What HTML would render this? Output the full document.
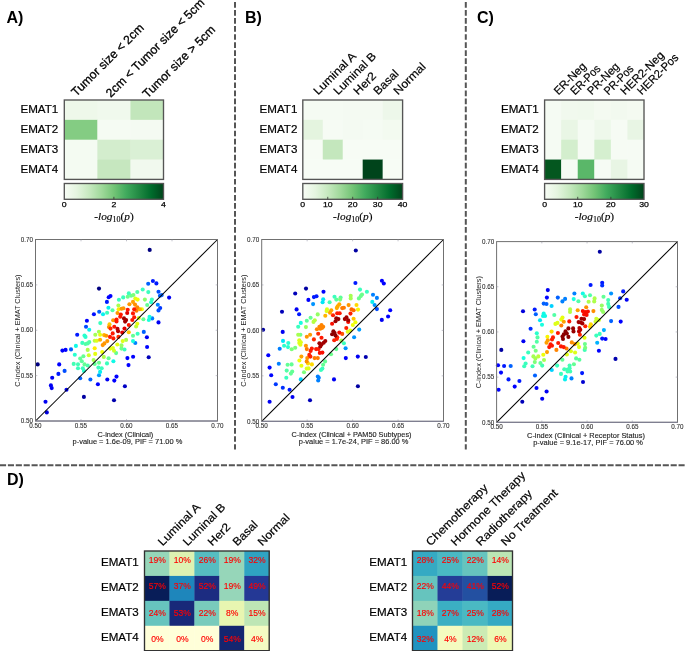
<!DOCTYPE html>
<html><head><meta charset="utf-8"><style>
html,body{margin:0;padding:0;background:#fff;}
body{width:685px;height:651px;overflow:hidden;}
svg{display:block;will-change:transform;filter:blur(0.3px);}
</style></head><body>
<svg width="685" height="651" viewBox="0 0 685 651">
<defs><linearGradient id="gA" x1="0" x2="1" y1="0" y2="0"><stop offset="0.000" stop-color="#f7fcf5"/><stop offset="0.125" stop-color="#e5f5e0"/><stop offset="0.250" stop-color="#c7e9c0"/><stop offset="0.375" stop-color="#a0d99b"/><stop offset="0.500" stop-color="#73c476"/><stop offset="0.625" stop-color="#40aa5d"/><stop offset="0.750" stop-color="#228a44"/><stop offset="0.875" stop-color="#006c2c"/><stop offset="1.000" stop-color="#00441b"/></linearGradient><linearGradient id="gB" x1="0" x2="1" y1="0" y2="0"><stop offset="0.000" stop-color="#f7fcf5"/><stop offset="0.125" stop-color="#e5f5e0"/><stop offset="0.250" stop-color="#c7e9c0"/><stop offset="0.375" stop-color="#a0d99b"/><stop offset="0.500" stop-color="#73c476"/><stop offset="0.625" stop-color="#40aa5d"/><stop offset="0.750" stop-color="#228a44"/><stop offset="0.875" stop-color="#006c2c"/><stop offset="1.000" stop-color="#00441b"/></linearGradient><linearGradient id="gC" x1="0" x2="1" y1="0" y2="0"><stop offset="0.000" stop-color="#f7fcf5"/><stop offset="0.125" stop-color="#e5f5e0"/><stop offset="0.250" stop-color="#c7e9c0"/><stop offset="0.375" stop-color="#a0d99b"/><stop offset="0.500" stop-color="#73c476"/><stop offset="0.625" stop-color="#40aa5d"/><stop offset="0.750" stop-color="#228a44"/><stop offset="0.875" stop-color="#006c2c"/><stop offset="1.000" stop-color="#00441b"/></linearGradient></defs>
<line x1="235" y1="2" x2="235" y2="449.5" stroke="#555" stroke-width="2" stroke-dasharray="5.7 2.34"/>
<line x1="465.8" y1="2" x2="465.8" y2="449.5" stroke="#555" stroke-width="2" stroke-dasharray="5.7 2.34"/>
<line x1="0" y1="465.3" x2="685" y2="465.3" stroke="#555" stroke-width="2" stroke-dasharray="6.1 1.79"/>
<text x="6.4" y="22.5" font-family="Liberation Sans, sans-serif" font-weight="bold" font-size="16">A)</text>
<text x="245.0" y="22.6" font-family="Liberation Sans, sans-serif" font-weight="bold" font-size="16">B)</text>
<text x="477.0" y="22.8" font-family="Liberation Sans, sans-serif" font-weight="bold" font-size="16">C)</text>
<text x="6.9" y="484.8" font-family="Liberation Sans, sans-serif" font-weight="bold" font-size="16">D)</text>
<rect x="64.30" y="100.00" width="33.47" height="20.25" fill="#eef8ea"/>
<rect x="97.37" y="100.00" width="33.47" height="20.25" fill="#f0f9ed"/>
<rect x="130.43" y="100.00" width="33.47" height="20.25" fill="#c2e6bb"/>
<rect x="64.30" y="119.85" width="33.47" height="20.25" fill="#84cc83"/>
<rect x="97.37" y="119.85" width="33.47" height="20.25" fill="#f5fbf3"/>
<rect x="130.43" y="119.85" width="33.47" height="20.25" fill="#f4faf2"/>
<rect x="64.30" y="139.70" width="33.47" height="20.25" fill="#f4fbf2"/>
<rect x="97.37" y="139.70" width="33.47" height="20.25" fill="#d3edcd"/>
<rect x="130.43" y="139.70" width="33.47" height="20.25" fill="#daf0d5"/>
<rect x="64.30" y="159.55" width="33.47" height="20.25" fill="#f4fbf2"/>
<rect x="97.37" y="159.55" width="33.47" height="20.25" fill="#c6e7bf"/>
<rect x="130.43" y="159.55" width="33.47" height="20.25" fill="#f1f9ee"/>
<rect x="64.3" y="100.0" width="99.2" height="79.4" fill="none" stroke="#555" stroke-width="1.35"/>
<text x="58.30" y="113.30" font-family="Liberation Sans, sans-serif" font-size="11.15" text-anchor="end" fill="#000" textLength="37.83" lengthAdjust="spacingAndGlyphs" stroke="#000" stroke-width="0.2">EMAT1</text>
<text x="58.30" y="133.10" font-family="Liberation Sans, sans-serif" font-size="11.15" text-anchor="end" fill="#000" textLength="37.83" lengthAdjust="spacingAndGlyphs" stroke="#000" stroke-width="0.2">EMAT2</text>
<text x="58.30" y="152.90" font-family="Liberation Sans, sans-serif" font-size="11.15" text-anchor="end" fill="#000" textLength="37.83" lengthAdjust="spacingAndGlyphs" stroke="#000" stroke-width="0.2">EMAT3</text>
<text x="58.30" y="172.60" font-family="Liberation Sans, sans-serif" font-size="11.15" text-anchor="end" fill="#000" textLength="37.83" lengthAdjust="spacingAndGlyphs" stroke="#000" stroke-width="0.2">EMAT4</text>
<text transform="translate(76.20,97.00) rotate(-45)" font-family="Liberation Sans, sans-serif" font-size="12.2" stroke="#000" stroke-width="0.3">Tumor size &lt; 2cm</text>
<text transform="translate(110.80,98.00) rotate(-45)" font-family="Liberation Sans, sans-serif" font-size="12.2" stroke="#000" stroke-width="0.3">2cm &lt; Tumor size &lt; 5cm</text>
<text transform="translate(147.60,98.80) rotate(-45)" font-family="Liberation Sans, sans-serif" font-size="12.2" stroke="#000" stroke-width="0.3">Tumor size &gt; 5cm</text>
<rect x="64.3" y="183.5" width="99.2" height="15.800000000000011" fill="url(#gA)" stroke="#555" stroke-width="1.35"/>
<text x="64.30" y="207.20" font-family="Liberation Sans, sans-serif" font-size="7.90" text-anchor="middle" fill="#000" textLength="4.84" lengthAdjust="spacingAndGlyphs" stroke="#000" stroke-width="0.25">0</text>
<line x1="113.90" y1="196.8" x2="113.90" y2="199.3" stroke="#333" stroke-width="0.8"/>
<text x="113.90" y="207.20" font-family="Liberation Sans, sans-serif" font-size="7.90" text-anchor="middle" fill="#000" textLength="4.84" lengthAdjust="spacingAndGlyphs" stroke="#000" stroke-width="0.25">2</text>
<text x="163.50" y="207.20" font-family="Liberation Sans, sans-serif" font-size="7.90" text-anchor="middle" fill="#000" textLength="4.84" lengthAdjust="spacingAndGlyphs" stroke="#000" stroke-width="0.25">4</text>
<text x="94.30" y="219.90" font-family="Liberation Serif, serif" font-size="11.3" stroke="#000" stroke-width="0.15"><tspan font-style="italic">-log</tspan><tspan font-size="8" dy="2.3">10</tspan><tspan dy="-2.3">(</tspan><tspan font-style="italic">p</tspan>)</text>
<rect x="302.80" y="100.00" width="20.36" height="20.25" fill="#f5fbf3"/>
<rect x="322.76" y="100.00" width="20.36" height="20.25" fill="#f5fbf3"/>
<rect x="342.72" y="100.00" width="20.36" height="20.25" fill="#f4faf2"/>
<rect x="362.68" y="100.00" width="20.36" height="20.25" fill="#f4faf2"/>
<rect x="382.64" y="100.00" width="20.36" height="20.25" fill="#edf7ea"/>
<rect x="302.80" y="119.85" width="20.36" height="20.25" fill="#e4f4df"/>
<rect x="322.76" y="119.85" width="20.36" height="20.25" fill="#f6fbf4"/>
<rect x="342.72" y="119.85" width="20.36" height="20.25" fill="#f4faf2"/>
<rect x="362.68" y="119.85" width="20.36" height="20.25" fill="#f5fbf3"/>
<rect x="382.64" y="119.85" width="20.36" height="20.25" fill="#f3faf0"/>
<rect x="302.80" y="139.70" width="20.36" height="20.25" fill="#f7fcf5"/>
<rect x="322.76" y="139.70" width="20.36" height="20.25" fill="#c4e7bd"/>
<rect x="342.72" y="139.70" width="20.36" height="20.25" fill="#f7fcf5"/>
<rect x="362.68" y="139.70" width="20.36" height="20.25" fill="#f7fcf5"/>
<rect x="382.64" y="139.70" width="20.36" height="20.25" fill="#f7fcf5"/>
<rect x="302.80" y="159.55" width="20.36" height="20.25" fill="#f7fcf5"/>
<rect x="322.76" y="159.55" width="20.36" height="20.25" fill="#f7fcf5"/>
<rect x="342.72" y="159.55" width="20.36" height="20.25" fill="#f7fcf5"/>
<rect x="362.68" y="159.55" width="20.36" height="20.25" fill="#00441b"/>
<rect x="382.64" y="159.55" width="20.36" height="20.25" fill="#f7fcf5"/>
<rect x="302.8" y="100.0" width="99.80000000000001" height="79.4" fill="none" stroke="#555" stroke-width="1.35"/>
<text x="297.40" y="113.30" font-family="Liberation Sans, sans-serif" font-size="11.15" text-anchor="end" fill="#000" textLength="37.83" lengthAdjust="spacingAndGlyphs" stroke="#000" stroke-width="0.2">EMAT1</text>
<text x="297.40" y="133.10" font-family="Liberation Sans, sans-serif" font-size="11.15" text-anchor="end" fill="#000" textLength="37.83" lengthAdjust="spacingAndGlyphs" stroke="#000" stroke-width="0.2">EMAT2</text>
<text x="297.40" y="152.90" font-family="Liberation Sans, sans-serif" font-size="11.15" text-anchor="end" fill="#000" textLength="37.83" lengthAdjust="spacingAndGlyphs" stroke="#000" stroke-width="0.2">EMAT3</text>
<text x="297.40" y="172.60" font-family="Liberation Sans, sans-serif" font-size="11.15" text-anchor="end" fill="#000" textLength="37.83" lengthAdjust="spacingAndGlyphs" stroke="#000" stroke-width="0.2">EMAT4</text>
<text transform="translate(318.10,95.60) rotate(-45)" font-family="Liberation Sans, sans-serif" font-size="11.45" fill="#000" textLength="54.72" lengthAdjust="spacingAndGlyphs" stroke="#000" stroke-width="0.2">Luminal A</text>
<text transform="translate(338.10,95.60) rotate(-45)" font-family="Liberation Sans, sans-serif" font-size="11.45" fill="#000" textLength="54.74" lengthAdjust="spacingAndGlyphs" stroke="#000" stroke-width="0.2">Luminal B</text>
<text transform="translate(358.10,95.60) rotate(-45)" font-family="Liberation Sans, sans-serif" font-size="11.45" fill="#000" textLength="26.68" lengthAdjust="spacingAndGlyphs" stroke="#000" stroke-width="0.2">Her2</text>
<text transform="translate(378.10,95.60) rotate(-45)" font-family="Liberation Sans, sans-serif" font-size="11.45" fill="#000" textLength="29.95" lengthAdjust="spacingAndGlyphs" stroke="#000" stroke-width="0.2">Basal</text>
<text transform="translate(398.10,95.60) rotate(-45)" font-family="Liberation Sans, sans-serif" font-size="11.45" fill="#000" textLength="39.98" lengthAdjust="spacingAndGlyphs" stroke="#000" stroke-width="0.2">Normal</text>
<rect x="302.8" y="183.5" width="99.80000000000001" height="15.800000000000011" fill="url(#gB)" stroke="#555" stroke-width="1.35"/>
<text x="302.80" y="207.20" font-family="Liberation Sans, sans-serif" font-size="7.90" text-anchor="middle" fill="#000" textLength="4.84" lengthAdjust="spacingAndGlyphs" stroke="#000" stroke-width="0.25">0</text>
<line x1="327.75" y1="196.8" x2="327.75" y2="199.3" stroke="#333" stroke-width="0.8"/>
<text x="327.75" y="207.20" font-family="Liberation Sans, sans-serif" font-size="7.90" text-anchor="middle" fill="#000" textLength="9.67" lengthAdjust="spacingAndGlyphs" stroke="#000" stroke-width="0.25">10</text>
<line x1="352.70" y1="196.8" x2="352.70" y2="199.3" stroke="#333" stroke-width="0.8"/>
<text x="352.70" y="207.20" font-family="Liberation Sans, sans-serif" font-size="7.90" text-anchor="middle" fill="#000" textLength="9.67" lengthAdjust="spacingAndGlyphs" stroke="#000" stroke-width="0.25">20</text>
<line x1="377.65" y1="196.8" x2="377.65" y2="199.3" stroke="#333" stroke-width="0.8"/>
<text x="377.65" y="207.20" font-family="Liberation Sans, sans-serif" font-size="7.90" text-anchor="middle" fill="#000" textLength="9.67" lengthAdjust="spacingAndGlyphs" stroke="#000" stroke-width="0.25">30</text>
<text x="402.60" y="207.20" font-family="Liberation Sans, sans-serif" font-size="7.90" text-anchor="middle" fill="#000" textLength="9.67" lengthAdjust="spacingAndGlyphs" stroke="#000" stroke-width="0.25">40</text>
<text x="333.10" y="219.90" font-family="Liberation Serif, serif" font-size="11.3" stroke="#000" stroke-width="0.15"><tspan font-style="italic">-log</tspan><tspan font-size="8" dy="2.3">10</tspan><tspan dy="-2.3">(</tspan><tspan font-style="italic">p</tspan>)</text>
<rect x="544.60" y="100.00" width="16.97" height="20.25" fill="#f5fbf3"/>
<rect x="561.17" y="100.00" width="16.97" height="20.25" fill="#f1f9ee"/>
<rect x="577.73" y="100.00" width="16.97" height="20.25" fill="#f0f9ed"/>
<rect x="594.30" y="100.00" width="16.97" height="20.25" fill="#f4faf1"/>
<rect x="610.87" y="100.00" width="16.97" height="20.25" fill="#f2f9ef"/>
<rect x="627.43" y="100.00" width="16.97" height="20.25" fill="#f4faf1"/>
<rect x="544.60" y="119.85" width="16.97" height="20.25" fill="#f5fbf3"/>
<rect x="561.17" y="119.85" width="16.97" height="20.25" fill="#e9f6e5"/>
<rect x="577.73" y="119.85" width="16.97" height="20.25" fill="#f5fbf3"/>
<rect x="594.30" y="119.85" width="16.97" height="20.25" fill="#eef8eb"/>
<rect x="610.87" y="119.85" width="16.97" height="20.25" fill="#f6fbf4"/>
<rect x="627.43" y="119.85" width="16.97" height="20.25" fill="#e8f5e4"/>
<rect x="544.60" y="139.70" width="16.97" height="20.25" fill="#f5fbf3"/>
<rect x="561.17" y="139.70" width="16.97" height="20.25" fill="#d3eecd"/>
<rect x="577.73" y="139.70" width="16.97" height="20.25" fill="#f6fbf4"/>
<rect x="594.30" y="139.70" width="16.97" height="20.25" fill="#d5efcf"/>
<rect x="610.87" y="139.70" width="16.97" height="20.25" fill="#f6fbf4"/>
<rect x="627.43" y="139.70" width="16.97" height="20.25" fill="#f6fbf4"/>
<rect x="544.60" y="159.55" width="16.97" height="20.25" fill="#04571f"/>
<rect x="561.17" y="159.55" width="16.97" height="20.25" fill="#f6fbf4"/>
<rect x="577.73" y="159.55" width="16.97" height="20.25" fill="#5ab769"/>
<rect x="594.30" y="159.55" width="16.97" height="20.25" fill="#f6fbf4"/>
<rect x="610.87" y="159.55" width="16.97" height="20.25" fill="#e8f5e4"/>
<rect x="627.43" y="159.55" width="16.97" height="20.25" fill="#f5fbf3"/>
<rect x="544.6" y="100.0" width="99.39999999999998" height="79.4" fill="none" stroke="#555" stroke-width="1.35"/>
<text x="538.80" y="113.30" font-family="Liberation Sans, sans-serif" font-size="11.15" text-anchor="end" fill="#000" textLength="37.83" lengthAdjust="spacingAndGlyphs" stroke="#000" stroke-width="0.2">EMAT1</text>
<text x="538.80" y="133.10" font-family="Liberation Sans, sans-serif" font-size="11.15" text-anchor="end" fill="#000" textLength="37.83" lengthAdjust="spacingAndGlyphs" stroke="#000" stroke-width="0.2">EMAT2</text>
<text x="538.80" y="152.90" font-family="Liberation Sans, sans-serif" font-size="11.15" text-anchor="end" fill="#000" textLength="37.83" lengthAdjust="spacingAndGlyphs" stroke="#000" stroke-width="0.2">EMAT3</text>
<text x="538.80" y="172.60" font-family="Liberation Sans, sans-serif" font-size="11.15" text-anchor="end" fill="#000" textLength="37.83" lengthAdjust="spacingAndGlyphs" stroke="#000" stroke-width="0.2">EMAT4</text>
<text transform="translate(558.43,95.50) rotate(-45)" font-family="Liberation Sans, sans-serif" font-size="11.45" fill="#000" textLength="40.28" lengthAdjust="spacingAndGlyphs" stroke="#000" stroke-width="0.2">ER-Neg</text>
<text transform="translate(575.10,95.50) rotate(-45)" font-family="Liberation Sans, sans-serif" font-size="11.45" fill="#000" textLength="36.99" lengthAdjust="spacingAndGlyphs" stroke="#000" stroke-width="0.2">ER-Pos</text>
<text transform="translate(591.77,95.50) rotate(-45)" font-family="Liberation Sans, sans-serif" font-size="11.45" fill="#000" textLength="39.96" lengthAdjust="spacingAndGlyphs" stroke="#000" stroke-width="0.2">PR-Neg</text>
<text transform="translate(608.43,95.50) rotate(-45)" font-family="Liberation Sans, sans-serif" font-size="11.45" fill="#000" textLength="36.67" lengthAdjust="spacingAndGlyphs" stroke="#000" stroke-width="0.2">PR-Pos</text>
<text transform="translate(625.10,95.50) rotate(-45)" font-family="Liberation Sans, sans-serif" font-size="11.45" fill="#000" textLength="56.07" lengthAdjust="spacingAndGlyphs" stroke="#000" stroke-width="0.2">HER2-Neg</text>
<text transform="translate(641.77,95.50) rotate(-45)" font-family="Liberation Sans, sans-serif" font-size="11.45" fill="#000" textLength="52.77" lengthAdjust="spacingAndGlyphs" stroke="#000" stroke-width="0.2">HER2-Pos</text>
<rect x="544.6" y="183.5" width="99.39999999999998" height="15.800000000000011" fill="url(#gC)" stroke="#555" stroke-width="1.35"/>
<text x="544.60" y="207.20" font-family="Liberation Sans, sans-serif" font-size="7.90" text-anchor="middle" fill="#000" textLength="4.84" lengthAdjust="spacingAndGlyphs" stroke="#000" stroke-width="0.25">0</text>
<line x1="577.73" y1="196.8" x2="577.73" y2="199.3" stroke="#333" stroke-width="0.8"/>
<text x="577.73" y="207.20" font-family="Liberation Sans, sans-serif" font-size="7.90" text-anchor="middle" fill="#000" textLength="9.67" lengthAdjust="spacingAndGlyphs" stroke="#000" stroke-width="0.25">10</text>
<line x1="610.87" y1="196.8" x2="610.87" y2="199.3" stroke="#333" stroke-width="0.8"/>
<text x="610.87" y="207.20" font-family="Liberation Sans, sans-serif" font-size="7.90" text-anchor="middle" fill="#000" textLength="9.67" lengthAdjust="spacingAndGlyphs" stroke="#000" stroke-width="0.25">20</text>
<text x="644.00" y="207.20" font-family="Liberation Sans, sans-serif" font-size="7.90" text-anchor="middle" fill="#000" textLength="9.67" lengthAdjust="spacingAndGlyphs" stroke="#000" stroke-width="0.25">30</text>
<text x="574.70" y="219.90" font-family="Liberation Serif, serif" font-size="11.3" stroke="#000" stroke-width="0.15"><tspan font-style="italic">-log</tspan><tspan font-size="8" dy="2.3">10</tspan><tspan dy="-2.3">(</tspan><tspan font-style="italic">p</tspan>)</text>
<rect x="144.50" y="551.00" width="25.34" height="25.33" fill="#96d6b9"/>
<rect x="169.44" y="551.00" width="25.34" height="25.33" fill="#ddf2b2"/>
<rect x="194.38" y="551.00" width="25.34" height="25.33" fill="#56bdc1"/>
<rect x="219.32" y="551.00" width="25.34" height="25.33" fill="#96d6b9"/>
<rect x="244.26" y="551.00" width="25.34" height="25.33" fill="#2fa3c2"/>
<rect x="144.50" y="575.92" width="25.34" height="25.33" fill="#081d58"/>
<rect x="169.44" y="575.92" width="25.34" height="25.33" fill="#1e86bb"/>
<rect x="194.38" y="575.92" width="25.34" height="25.33" fill="#1c2c81"/>
<rect x="219.32" y="575.92" width="25.34" height="25.33" fill="#96d6b9"/>
<rect x="244.26" y="575.92" width="25.34" height="25.33" fill="#243895"/>
<rect x="144.50" y="600.85" width="25.34" height="25.33" fill="#67c4be"/>
<rect x="169.44" y="600.85" width="25.34" height="25.33" fill="#182979"/>
<rect x="194.38" y="600.85" width="25.34" height="25.33" fill="#79cbbc"/>
<rect x="219.32" y="600.85" width="25.34" height="25.33" fill="#e8f6b1"/>
<rect x="244.26" y="600.85" width="25.34" height="25.33" fill="#bee6b5"/>
<rect x="144.50" y="625.78" width="25.34" height="25.33" fill="#ffffd9"/>
<rect x="169.44" y="625.78" width="25.34" height="25.33" fill="#ffffd9"/>
<rect x="194.38" y="625.78" width="25.34" height="25.33" fill="#ffffd9"/>
<rect x="219.32" y="625.78" width="25.34" height="25.33" fill="#142670"/>
<rect x="244.26" y="625.78" width="25.34" height="25.33" fill="#f5fbc3"/>
<rect x="144.5" y="551.0" width="124.69999999999999" height="99.70000000000005" fill="none" stroke="#303030" stroke-width="1.35"/>
<text x="157.37" y="563.30" font-family="Liberation Sans, sans-serif" font-size="9.2" fill="#ff0000" stroke="#ff0000" stroke-width="0.15" text-anchor="middle" textLength="17.12" lengthAdjust="spacingAndGlyphs">19%</text>
<text x="182.31" y="563.30" font-family="Liberation Sans, sans-serif" font-size="9.2" fill="#ff0000" stroke="#ff0000" stroke-width="0.15" text-anchor="middle" textLength="17.12" lengthAdjust="spacingAndGlyphs">10%</text>
<text x="207.25" y="563.30" font-family="Liberation Sans, sans-serif" font-size="9.2" fill="#ff0000" stroke="#ff0000" stroke-width="0.15" text-anchor="middle" textLength="17.12" lengthAdjust="spacingAndGlyphs">26%</text>
<text x="232.19" y="563.30" font-family="Liberation Sans, sans-serif" font-size="9.2" fill="#ff0000" stroke="#ff0000" stroke-width="0.15" text-anchor="middle" textLength="17.12" lengthAdjust="spacingAndGlyphs">19%</text>
<text x="257.13" y="563.30" font-family="Liberation Sans, sans-serif" font-size="9.2" fill="#ff0000" stroke="#ff0000" stroke-width="0.15" text-anchor="middle" textLength="17.12" lengthAdjust="spacingAndGlyphs">32%</text>
<text x="157.37" y="589.30" font-family="Liberation Sans, sans-serif" font-size="9.2" fill="#ff0000" stroke="#ff0000" stroke-width="0.15" text-anchor="middle" textLength="17.12" lengthAdjust="spacingAndGlyphs">57%</text>
<text x="182.31" y="589.30" font-family="Liberation Sans, sans-serif" font-size="9.2" fill="#ff0000" stroke="#ff0000" stroke-width="0.15" text-anchor="middle" textLength="17.12" lengthAdjust="spacingAndGlyphs">37%</text>
<text x="207.25" y="589.30" font-family="Liberation Sans, sans-serif" font-size="9.2" fill="#ff0000" stroke="#ff0000" stroke-width="0.15" text-anchor="middle" textLength="17.12" lengthAdjust="spacingAndGlyphs">52%</text>
<text x="232.19" y="589.30" font-family="Liberation Sans, sans-serif" font-size="9.2" fill="#ff0000" stroke="#ff0000" stroke-width="0.15" text-anchor="middle" textLength="17.12" lengthAdjust="spacingAndGlyphs">19%</text>
<text x="257.13" y="589.30" font-family="Liberation Sans, sans-serif" font-size="9.2" fill="#ff0000" stroke="#ff0000" stroke-width="0.15" text-anchor="middle" textLength="17.12" lengthAdjust="spacingAndGlyphs">49%</text>
<text x="157.37" y="615.60" font-family="Liberation Sans, sans-serif" font-size="9.2" fill="#ff0000" stroke="#ff0000" stroke-width="0.15" text-anchor="middle" textLength="17.12" lengthAdjust="spacingAndGlyphs">24%</text>
<text x="182.31" y="615.60" font-family="Liberation Sans, sans-serif" font-size="9.2" fill="#ff0000" stroke="#ff0000" stroke-width="0.15" text-anchor="middle" textLength="17.12" lengthAdjust="spacingAndGlyphs">53%</text>
<text x="207.25" y="615.60" font-family="Liberation Sans, sans-serif" font-size="9.2" fill="#ff0000" stroke="#ff0000" stroke-width="0.15" text-anchor="middle" textLength="17.12" lengthAdjust="spacingAndGlyphs">22%</text>
<text x="232.19" y="615.60" font-family="Liberation Sans, sans-serif" font-size="9.2" fill="#ff0000" stroke="#ff0000" stroke-width="0.15" text-anchor="middle" textLength="12.37" lengthAdjust="spacingAndGlyphs">8%</text>
<text x="257.13" y="615.60" font-family="Liberation Sans, sans-serif" font-size="9.2" fill="#ff0000" stroke="#ff0000" stroke-width="0.15" text-anchor="middle" textLength="17.12" lengthAdjust="spacingAndGlyphs">15%</text>
<text x="157.37" y="641.50" font-family="Liberation Sans, sans-serif" font-size="9.2" fill="#ff0000" stroke="#ff0000" stroke-width="0.15" text-anchor="middle" textLength="12.37" lengthAdjust="spacingAndGlyphs">0%</text>
<text x="182.31" y="641.50" font-family="Liberation Sans, sans-serif" font-size="9.2" fill="#ff0000" stroke="#ff0000" stroke-width="0.15" text-anchor="middle" textLength="12.37" lengthAdjust="spacingAndGlyphs">0%</text>
<text x="207.25" y="641.50" font-family="Liberation Sans, sans-serif" font-size="9.2" fill="#ff0000" stroke="#ff0000" stroke-width="0.15" text-anchor="middle" textLength="12.37" lengthAdjust="spacingAndGlyphs">0%</text>
<text x="232.19" y="641.50" font-family="Liberation Sans, sans-serif" font-size="9.2" fill="#ff0000" stroke="#ff0000" stroke-width="0.15" text-anchor="middle" textLength="17.12" lengthAdjust="spacingAndGlyphs">54%</text>
<text x="257.13" y="641.50" font-family="Liberation Sans, sans-serif" font-size="9.2" fill="#ff0000" stroke="#ff0000" stroke-width="0.15" text-anchor="middle" textLength="12.37" lengthAdjust="spacingAndGlyphs">4%</text>
<text x="138.80" y="566.40" font-family="Liberation Sans, sans-serif" font-size="11.15" text-anchor="end" fill="#000" textLength="37.83" lengthAdjust="spacingAndGlyphs" stroke="#000" stroke-width="0.2">EMAT1</text>
<text x="138.80" y="591.30" font-family="Liberation Sans, sans-serif" font-size="11.15" text-anchor="end" fill="#000" textLength="37.83" lengthAdjust="spacingAndGlyphs" stroke="#000" stroke-width="0.2">EMAT2</text>
<text x="138.80" y="616.20" font-family="Liberation Sans, sans-serif" font-size="11.15" text-anchor="end" fill="#000" textLength="37.83" lengthAdjust="spacingAndGlyphs" stroke="#000" stroke-width="0.2">EMAT3</text>
<text x="138.80" y="641.00" font-family="Liberation Sans, sans-serif" font-size="11.15" text-anchor="end" fill="#000" textLength="37.83" lengthAdjust="spacingAndGlyphs" stroke="#000" stroke-width="0.2">EMAT4</text>
<text transform="translate(162.55,546.60) rotate(-45)" font-family="Liberation Sans, sans-serif" font-size="11.45" fill="#000" textLength="54.72" lengthAdjust="spacingAndGlyphs" stroke="#000" stroke-width="0.2">Luminal A</text>
<text transform="translate(187.45,546.60) rotate(-45)" font-family="Liberation Sans, sans-serif" font-size="11.45" fill="#000" textLength="54.74" lengthAdjust="spacingAndGlyphs" stroke="#000" stroke-width="0.2">Luminal B</text>
<text transform="translate(212.35,546.60) rotate(-45)" font-family="Liberation Sans, sans-serif" font-size="11.45" fill="#000" textLength="26.68" lengthAdjust="spacingAndGlyphs" stroke="#000" stroke-width="0.2">Her2</text>
<text transform="translate(237.25,546.60) rotate(-45)" font-family="Liberation Sans, sans-serif" font-size="11.45" fill="#000" textLength="29.95" lengthAdjust="spacingAndGlyphs" stroke="#000" stroke-width="0.2">Basal</text>
<text transform="translate(262.15,546.60) rotate(-45)" font-family="Liberation Sans, sans-serif" font-size="11.45" fill="#000" textLength="39.98" lengthAdjust="spacingAndGlyphs" stroke="#000" stroke-width="0.2">Normal</text>
<rect x="412.50" y="551.00" width="25.40" height="25.33" fill="#35aac3"/>
<rect x="437.50" y="551.00" width="25.40" height="25.33" fill="#4ab9c3"/>
<rect x="462.50" y="551.00" width="25.40" height="25.33" fill="#66c4be"/>
<rect x="487.50" y="551.00" width="25.40" height="25.33" fill="#bbe5b5"/>
<rect x="412.50" y="575.92" width="25.40" height="25.33" fill="#66c4be"/>
<rect x="437.50" y="575.92" width="25.40" height="25.33" fill="#243d97"/>
<rect x="462.50" y="575.92" width="25.40" height="25.33" fill="#2350a1"/>
<rect x="487.50" y="575.92" width="25.40" height="25.33" fill="#081d58"/>
<rect x="412.50" y="600.85" width="25.40" height="25.33" fill="#8fd3b9"/>
<rect x="437.50" y="600.85" width="25.40" height="25.33" fill="#3bafc3"/>
<rect x="462.50" y="600.85" width="25.40" height="25.33" fill="#4ab9c3"/>
<rect x="487.50" y="600.85" width="25.40" height="25.33" fill="#35aac3"/>
<rect x="412.50" y="625.78" width="25.40" height="25.33" fill="#2093c0"/>
<rect x="437.50" y="625.78" width="25.40" height="25.33" fill="#f4fbc0"/>
<rect x="462.50" y="625.78" width="25.40" height="25.33" fill="#ccebb4"/>
<rect x="487.50" y="625.78" width="25.40" height="25.33" fill="#eef9b4"/>
<rect x="412.5" y="551.0" width="100.0" height="99.70000000000005" fill="none" stroke="#303030" stroke-width="1.35"/>
<text x="425.40" y="563.30" font-family="Liberation Sans, sans-serif" font-size="9.2" fill="#ff0000" stroke="#ff0000" stroke-width="0.15" text-anchor="middle" textLength="17.12" lengthAdjust="spacingAndGlyphs">28%</text>
<text x="450.40" y="563.30" font-family="Liberation Sans, sans-serif" font-size="9.2" fill="#ff0000" stroke="#ff0000" stroke-width="0.15" text-anchor="middle" textLength="17.12" lengthAdjust="spacingAndGlyphs">25%</text>
<text x="475.40" y="563.30" font-family="Liberation Sans, sans-serif" font-size="9.2" fill="#ff0000" stroke="#ff0000" stroke-width="0.15" text-anchor="middle" textLength="17.12" lengthAdjust="spacingAndGlyphs">22%</text>
<text x="500.40" y="563.30" font-family="Liberation Sans, sans-serif" font-size="9.2" fill="#ff0000" stroke="#ff0000" stroke-width="0.15" text-anchor="middle" textLength="17.12" lengthAdjust="spacingAndGlyphs">14%</text>
<text x="425.40" y="589.30" font-family="Liberation Sans, sans-serif" font-size="9.2" fill="#ff0000" stroke="#ff0000" stroke-width="0.15" text-anchor="middle" textLength="17.12" lengthAdjust="spacingAndGlyphs">22%</text>
<text x="450.40" y="589.30" font-family="Liberation Sans, sans-serif" font-size="9.2" fill="#ff0000" stroke="#ff0000" stroke-width="0.15" text-anchor="middle" textLength="17.12" lengthAdjust="spacingAndGlyphs">44%</text>
<text x="475.40" y="589.30" font-family="Liberation Sans, sans-serif" font-size="9.2" fill="#ff0000" stroke="#ff0000" stroke-width="0.15" text-anchor="middle" textLength="17.12" lengthAdjust="spacingAndGlyphs">41%</text>
<text x="500.40" y="589.30" font-family="Liberation Sans, sans-serif" font-size="9.2" fill="#ff0000" stroke="#ff0000" stroke-width="0.15" text-anchor="middle" textLength="17.12" lengthAdjust="spacingAndGlyphs">52%</text>
<text x="425.40" y="615.60" font-family="Liberation Sans, sans-serif" font-size="9.2" fill="#ff0000" stroke="#ff0000" stroke-width="0.15" text-anchor="middle" textLength="17.12" lengthAdjust="spacingAndGlyphs">18%</text>
<text x="450.40" y="615.60" font-family="Liberation Sans, sans-serif" font-size="9.2" fill="#ff0000" stroke="#ff0000" stroke-width="0.15" text-anchor="middle" textLength="17.12" lengthAdjust="spacingAndGlyphs">27%</text>
<text x="475.40" y="615.60" font-family="Liberation Sans, sans-serif" font-size="9.2" fill="#ff0000" stroke="#ff0000" stroke-width="0.15" text-anchor="middle" textLength="17.12" lengthAdjust="spacingAndGlyphs">25%</text>
<text x="500.40" y="615.60" font-family="Liberation Sans, sans-serif" font-size="9.2" fill="#ff0000" stroke="#ff0000" stroke-width="0.15" text-anchor="middle" textLength="17.12" lengthAdjust="spacingAndGlyphs">28%</text>
<text x="425.40" y="641.50" font-family="Liberation Sans, sans-serif" font-size="9.2" fill="#ff0000" stroke="#ff0000" stroke-width="0.15" text-anchor="middle" textLength="17.12" lengthAdjust="spacingAndGlyphs">32%</text>
<text x="450.40" y="641.50" font-family="Liberation Sans, sans-serif" font-size="9.2" fill="#ff0000" stroke="#ff0000" stroke-width="0.15" text-anchor="middle" textLength="12.37" lengthAdjust="spacingAndGlyphs">4%</text>
<text x="475.40" y="641.50" font-family="Liberation Sans, sans-serif" font-size="9.2" fill="#ff0000" stroke="#ff0000" stroke-width="0.15" text-anchor="middle" textLength="17.12" lengthAdjust="spacingAndGlyphs">12%</text>
<text x="500.40" y="641.50" font-family="Liberation Sans, sans-serif" font-size="9.2" fill="#ff0000" stroke="#ff0000" stroke-width="0.15" text-anchor="middle" textLength="12.37" lengthAdjust="spacingAndGlyphs">6%</text>
<text x="407.20" y="566.40" font-family="Liberation Sans, sans-serif" font-size="11.15" text-anchor="end" fill="#000" textLength="37.83" lengthAdjust="spacingAndGlyphs" stroke="#000" stroke-width="0.2">EMAT1</text>
<text x="407.20" y="591.30" font-family="Liberation Sans, sans-serif" font-size="11.15" text-anchor="end" fill="#000" textLength="37.83" lengthAdjust="spacingAndGlyphs" stroke="#000" stroke-width="0.2">EMAT2</text>
<text x="407.20" y="616.20" font-family="Liberation Sans, sans-serif" font-size="11.15" text-anchor="end" fill="#000" textLength="37.83" lengthAdjust="spacingAndGlyphs" stroke="#000" stroke-width="0.2">EMAT3</text>
<text x="407.20" y="641.00" font-family="Liberation Sans, sans-serif" font-size="11.15" text-anchor="end" fill="#000" textLength="37.83" lengthAdjust="spacingAndGlyphs" stroke="#000" stroke-width="0.2">EMAT4</text>
<text transform="translate(430.60,546.60) rotate(-45)" font-family="Liberation Sans, sans-serif" font-size="11.45" fill="#000" textLength="82.05" lengthAdjust="spacingAndGlyphs" stroke="#000" stroke-width="0.2">Chemotherapy</text>
<text transform="translate(455.60,546.60) rotate(-45)" font-family="Liberation Sans, sans-serif" font-size="11.45" fill="#000" textLength="99.68" lengthAdjust="spacingAndGlyphs" stroke="#000" stroke-width="0.2">Hormone Therapy</text>
<text transform="translate(480.60,546.60) rotate(-45)" font-family="Liberation Sans, sans-serif" font-size="11.45" fill="#000" textLength="74.05" lengthAdjust="spacingAndGlyphs" stroke="#000" stroke-width="0.2">Radiotherapy</text>
<text transform="translate(505.60,546.60) rotate(-45)" font-family="Liberation Sans, sans-serif" font-size="11.45" fill="#000" textLength="74.77" lengthAdjust="spacingAndGlyphs" stroke="#000" stroke-width="0.2">No Treatment</text>
<circle cx="99.0" cy="288.6" r="2.05" fill="#000080"/>
<circle cx="149.7" cy="249.9" r="2.05" fill="#000080"/>
<circle cx="37.7" cy="364.4" r="2.05" fill="#000080"/>
<circle cx="83.9" cy="396.9" r="2.05" fill="#0000a2"/>
<circle cx="114.0" cy="400.2" r="2.05" fill="#0000ae"/>
<circle cx="148.7" cy="357.2" r="2.05" fill="#0000b9"/>
<circle cx="124.9" cy="386.2" r="2.05" fill="#0000c5"/>
<circle cx="46.8" cy="412.4" r="2.05" fill="#0000dc"/>
<circle cx="146.9" cy="337.2" r="2.05" fill="#0000f3"/>
<circle cx="169.1" cy="297.6" r="2.05" fill="#0000f3"/>
<circle cx="158.5" cy="322.4" r="2.05" fill="#0000f3"/>
<circle cx="66.5" cy="389.7" r="2.05" fill="#0000f3"/>
<circle cx="52.2" cy="377.8" r="2.05" fill="#0000f3"/>
<circle cx="50.9" cy="385.4" r="2.05" fill="#0000f3"/>
<circle cx="51.7" cy="388.1" r="2.05" fill="#0000f3"/>
<circle cx="107.3" cy="379.5" r="2.05" fill="#0000f3"/>
<circle cx="45.5" cy="401.7" r="2.05" fill="#0000f3"/>
<circle cx="110.5" cy="296.0" r="2.05" fill="#0000ff"/>
<circle cx="108.7" cy="297.2" r="2.05" fill="#0000ff"/>
<circle cx="86.9" cy="320.8" r="2.05" fill="#0000ff"/>
<circle cx="62.4" cy="350.6" r="2.05" fill="#0000ff"/>
<circle cx="65.6" cy="349.9" r="2.05" fill="#0000ff"/>
<circle cx="97.9" cy="384.3" r="2.05" fill="#0000ff"/>
<circle cx="59.2" cy="364.4" r="2.05" fill="#0000ff"/>
<circle cx="127.4" cy="358.1" r="2.05" fill="#0000ff"/>
<circle cx="133.1" cy="356.7" r="2.05" fill="#0000ff"/>
<circle cx="128.5" cy="365.1" r="2.05" fill="#0000ff"/>
<circle cx="116.5" cy="376.6" r="2.05" fill="#0000ff"/>
<circle cx="114.3" cy="380.6" r="2.05" fill="#0000ff"/>
<circle cx="147.1" cy="347.0" r="2.05" fill="#0005ff"/>
<circle cx="93.9" cy="314.3" r="2.05" fill="#000fff"/>
<circle cx="106.9" cy="301.9" r="2.05" fill="#0019ff"/>
<circle cx="77.2" cy="334.8" r="2.05" fill="#0019ff"/>
<circle cx="152.9" cy="281.0" r="2.05" fill="#0019ff"/>
<circle cx="156.4" cy="283.4" r="2.05" fill="#0019ff"/>
<circle cx="58.4" cy="373.9" r="2.05" fill="#0019ff"/>
<circle cx="160.2" cy="308.0" r="2.05" fill="#0038ff"/>
<circle cx="86.0" cy="326.8" r="2.05" fill="#004dff"/>
<circle cx="158.5" cy="291.7" r="2.05" fill="#004dff"/>
<circle cx="158.5" cy="310.4" r="2.05" fill="#004dff"/>
<circle cx="64.6" cy="370.9" r="2.05" fill="#004dff"/>
<circle cx="99.2" cy="311.7" r="2.05" fill="#0061ff"/>
<circle cx="143.8" cy="331.9" r="2.05" fill="#0061ff"/>
<circle cx="148.2" cy="283.8" r="2.05" fill="#0061ff"/>
<circle cx="159.9" cy="295.7" r="2.05" fill="#0061ff"/>
<circle cx="161.7" cy="295.1" r="2.05" fill="#0061ff"/>
<circle cx="71.0" cy="349.4" r="2.05" fill="#0061ff"/>
<circle cx="90.4" cy="379.5" r="2.05" fill="#0061ff"/>
<circle cx="80.2" cy="378.2" r="2.05" fill="#0061ff"/>
<circle cx="152.2" cy="318.4" r="2.05" fill="#0080ff"/>
<circle cx="135.3" cy="343.0" r="2.05" fill="#0080ff"/>
<circle cx="157.8" cy="304.7" r="2.05" fill="#0080ff"/>
<circle cx="99.0" cy="375.2" r="2.05" fill="#009eff"/>
<circle cx="108.4" cy="307.8" r="2.05" fill="#08f0ef"/>
<circle cx="103.0" cy="314.3" r="2.05" fill="#08f0ef"/>
<circle cx="89.2" cy="329.8" r="2.05" fill="#08f0ef"/>
<circle cx="100.1" cy="371.9" r="2.05" fill="#08f0ef"/>
<circle cx="75.9" cy="345.9" r="2.05" fill="#10fae6"/>
<circle cx="113.4" cy="361.3" r="2.05" fill="#10fae6"/>
<circle cx="149.5" cy="316.9" r="2.05" fill="#19ffde"/>
<circle cx="148.8" cy="320.0" r="2.05" fill="#19ffde"/>
<circle cx="133.0" cy="341.1" r="2.05" fill="#19ffde"/>
<circle cx="84.5" cy="335.6" r="2.05" fill="#29ffce"/>
<circle cx="85.5" cy="336.9" r="2.05" fill="#29ffce"/>
<circle cx="151.1" cy="302.3" r="2.05" fill="#29ffce"/>
<circle cx="74.8" cy="354.7" r="2.05" fill="#29ffce"/>
<circle cx="83.9" cy="370.9" r="2.05" fill="#29ffce"/>
<circle cx="107.1" cy="312.8" r="2.05" fill="#3affbd"/>
<circle cx="118.9" cy="299.7" r="2.05" fill="#3affbd"/>
<circle cx="123.2" cy="297.4" r="2.05" fill="#3affbd"/>
<circle cx="128.8" cy="293.4" r="2.05" fill="#3affbd"/>
<circle cx="100.3" cy="323.1" r="2.05" fill="#3affbd"/>
<circle cx="151.9" cy="299.6" r="2.05" fill="#3affbd"/>
<circle cx="137.6" cy="333.8" r="2.05" fill="#3affbd"/>
<circle cx="142.7" cy="289.5" r="2.05" fill="#3affbd"/>
<circle cx="148.3" cy="292.1" r="2.05" fill="#3affbd"/>
<circle cx="82.3" cy="342.9" r="2.05" fill="#3affbd"/>
<circle cx="78.0" cy="368.2" r="2.05" fill="#3affbd"/>
<circle cx="82.8" cy="368.2" r="2.05" fill="#3affbd"/>
<circle cx="98.4" cy="367.6" r="2.05" fill="#3affbd"/>
<circle cx="101.7" cy="368.2" r="2.05" fill="#3affbd"/>
<circle cx="124.5" cy="349.5" r="2.05" fill="#3affbd"/>
<circle cx="107.0" cy="363.4" r="2.05" fill="#3affbd"/>
<circle cx="73.7" cy="363.9" r="2.05" fill="#42ffb5"/>
<circle cx="78.0" cy="364.2" r="2.05" fill="#42ffb5"/>
<circle cx="87.7" cy="365.5" r="2.05" fill="#4affad"/>
<circle cx="112.5" cy="310.3" r="2.05" fill="#52ffa5"/>
<circle cx="137.3" cy="292.0" r="2.05" fill="#52ffa5"/>
<circle cx="85.5" cy="344.0" r="2.05" fill="#52ffa5"/>
<circle cx="87.7" cy="343.4" r="2.05" fill="#52ffa5"/>
<circle cx="89.3" cy="342.0" r="2.05" fill="#52ffa5"/>
<circle cx="81.8" cy="361.2" r="2.05" fill="#5aff9c"/>
<circle cx="147.2" cy="305.0" r="2.05" fill="#63ff94"/>
<circle cx="143.4" cy="319.2" r="2.05" fill="#63ff94"/>
<circle cx="133.0" cy="335.7" r="2.05" fill="#63ff94"/>
<circle cx="80.2" cy="358.5" r="2.05" fill="#63ff94"/>
<circle cx="83.4" cy="356.3" r="2.05" fill="#63ff94"/>
<circle cx="84.5" cy="364.4" r="2.05" fill="#63ff94"/>
<circle cx="94.7" cy="363.9" r="2.05" fill="#63ff94"/>
<circle cx="116.1" cy="353.1" r="2.05" fill="#63ff94"/>
<circle cx="108.6" cy="358.3" r="2.05" fill="#63ff94"/>
<circle cx="127.7" cy="296.7" r="2.05" fill="#6bff8c"/>
<circle cx="131.1" cy="295.8" r="2.05" fill="#6bff8c"/>
<circle cx="99.0" cy="362.8" r="2.05" fill="#6bff8c"/>
<circle cx="121.5" cy="348.6" r="2.05" fill="#6bff8c"/>
<circle cx="133.4" cy="295.0" r="2.05" fill="#7bff7b"/>
<circle cx="144.9" cy="299.6" r="2.05" fill="#8cff6b"/>
<circle cx="121.5" cy="345.4" r="2.05" fill="#94ff63"/>
<circle cx="118.4" cy="305.5" r="2.05" fill="#a5ff52"/>
<circle cx="98.9" cy="331.8" r="2.05" fill="#a5ff52"/>
<circle cx="95.3" cy="334.8" r="2.05" fill="#a5ff52"/>
<circle cx="93.6" cy="360.1" r="2.05" fill="#a5ff52"/>
<circle cx="126.1" cy="339.9" r="2.05" fill="#adff4a"/>
<circle cx="87.7" cy="349.9" r="2.05" fill="#adff4a"/>
<circle cx="103.8" cy="356.9" r="2.05" fill="#adff4a"/>
<circle cx="136.1" cy="326.5" r="2.05" fill="#bdff3a"/>
<circle cx="94.7" cy="340.8" r="2.05" fill="#bdff3a"/>
<circle cx="88.8" cy="355.3" r="2.05" fill="#ceff29"/>
<circle cx="114.0" cy="350.8" r="2.05" fill="#ceff29"/>
<circle cx="135.3" cy="298.5" r="2.05" fill="#deff19"/>
<circle cx="138.8" cy="318.0" r="2.05" fill="#deff19"/>
<circle cx="122.7" cy="341.1" r="2.05" fill="#deff19"/>
<circle cx="96.8" cy="340.8" r="2.05" fill="#deff19"/>
<circle cx="112.9" cy="348.1" r="2.05" fill="#deff19"/>
<circle cx="100.1" cy="334.8" r="2.05" fill="#e6ff10"/>
<circle cx="137.3" cy="323.8" r="2.05" fill="#e6ff10"/>
<circle cx="117.3" cy="344.5" r="2.05" fill="#e6ff10"/>
<circle cx="95.2" cy="353.9" r="2.05" fill="#e6ff10"/>
<circle cx="110.2" cy="348.6" r="2.05" fill="#e6ff10"/>
<circle cx="137.6" cy="299.6" r="2.05" fill="#efff08"/>
<circle cx="141.9" cy="309.2" r="2.05" fill="#efff08"/>
<circle cx="102.2" cy="352.0" r="2.05" fill="#efff08"/>
<circle cx="118.6" cy="309.2" r="2.05" fill="#ffec00"/>
<circle cx="94.7" cy="348.3" r="2.05" fill="#ffec00"/>
<circle cx="109.5" cy="324.3" r="2.05" fill="#ffc600"/>
<circle cx="128.8" cy="332.3" r="2.05" fill="#ffc600"/>
<circle cx="104.1" cy="335.1" r="2.05" fill="#ffb300"/>
<circle cx="139.9" cy="309.2" r="2.05" fill="#ffb300"/>
<circle cx="100.1" cy="339.7" r="2.05" fill="#ffb300"/>
<circle cx="133.0" cy="301.9" r="2.05" fill="#ffa100"/>
<circle cx="108.9" cy="327.0" r="2.05" fill="#ff9700"/>
<circle cx="113.2" cy="320.3" r="2.05" fill="#ff9700"/>
<circle cx="123.4" cy="308.2" r="2.05" fill="#ff9700"/>
<circle cx="117.5" cy="313.0" r="2.05" fill="#ff9700"/>
<circle cx="129.4" cy="304.2" r="2.05" fill="#ff9700"/>
<circle cx="121.5" cy="308.8" r="2.05" fill="#ff9700"/>
<circle cx="106.2" cy="335.7" r="2.05" fill="#ff9700"/>
<circle cx="107.3" cy="341.1" r="2.05" fill="#ff9700"/>
<circle cx="102.7" cy="345.1" r="2.05" fill="#ff9700"/>
<circle cx="104.4" cy="343.4" r="2.05" fill="#ff9700"/>
<circle cx="135.0" cy="304.6" r="2.05" fill="#ff8e00"/>
<circle cx="137.3" cy="307.3" r="2.05" fill="#ff8400"/>
<circle cx="136.5" cy="310.7" r="2.05" fill="#ff7b00"/>
<circle cx="110.5" cy="328.6" r="2.05" fill="#ff2b00"/>
<circle cx="118.4" cy="336.9" r="2.05" fill="#ff2b00"/>
<circle cx="116.5" cy="319.5" r="2.05" fill="#ff1800"/>
<circle cx="116.5" cy="321.4" r="2.05" fill="#ff1800"/>
<circle cx="114.3" cy="326.8" r="2.05" fill="#ff1800"/>
<circle cx="112.7" cy="333.4" r="2.05" fill="#ff1800"/>
<circle cx="110.0" cy="336.9" r="2.05" fill="#ff1800"/>
<circle cx="120.8" cy="314.6" r="2.05" fill="#ff1800"/>
<circle cx="120.2" cy="316.8" r="2.05" fill="#ff1800"/>
<circle cx="127.7" cy="309.8" r="2.05" fill="#ff1800"/>
<circle cx="134.2" cy="309.2" r="2.05" fill="#ff1800"/>
<circle cx="133.0" cy="313.4" r="2.05" fill="#ff1800"/>
<circle cx="134.2" cy="317.3" r="2.05" fill="#ff1800"/>
<circle cx="132.3" cy="320.0" r="2.05" fill="#ff1800"/>
<circle cx="113.4" cy="338.4" r="2.05" fill="#ff1800"/>
<circle cx="128.8" cy="325.0" r="2.05" fill="#ff1800"/>
<circle cx="127.2" cy="313.0" r="2.05" fill="#e20000"/>
<circle cx="124.5" cy="328.6" r="2.05" fill="#e20000"/>
<circle cx="122.3" cy="332.6" r="2.05" fill="#e20000"/>
<circle cx="117.5" cy="328.9" r="2.05" fill="#b90000"/>
<circle cx="118.1" cy="331.3" r="2.05" fill="#b90000"/>
<circle cx="124.0" cy="318.4" r="2.05" fill="#a20000"/>
<circle cx="126.1" cy="320.0" r="2.05" fill="#a20000"/>
<circle cx="125.1" cy="321.6" r="2.05" fill="#a20000"/>
<line x1="35.5" y1="421.0" x2="217.5" y2="239.5" stroke="#000" stroke-width="1.05"/>
<rect x="35.5" y="239.5" width="182" height="181.5" fill="none" stroke="#707070" stroke-width="1"/>
<line x1="35.5" y1="421.0" x2="217.5" y2="421.0" stroke="#7c7c92" stroke-width="1.0"/>
<text x="35.50" y="427.90" font-family="Liberation Sans, sans-serif" font-size="6.30" text-anchor="middle" fill="#2a2a2a" textLength="12.26" lengthAdjust="spacingAndGlyphs" stroke="#2a2a2a" stroke-width="0.08">0.50</text>
<text x="33.10" y="423.20" font-family="Liberation Sans, sans-serif" font-size="6.30" text-anchor="end" fill="#2a2a2a" textLength="12.26" lengthAdjust="spacingAndGlyphs" stroke="#2a2a2a" stroke-width="0.08">0.50</text>
<line x1="81.00" y1="421.00" x2="81.00" y2="419.20" stroke="#99a" stroke-width="0.6"/>
<line x1="81.00" y1="239.50" x2="81.00" y2="241.30" stroke="#99a" stroke-width="0.6"/>
<line x1="35.50" y1="375.62" x2="37.30" y2="375.62" stroke="#99a" stroke-width="0.6"/>
<line x1="217.50" y1="375.62" x2="215.70" y2="375.62" stroke="#99a" stroke-width="0.6"/>
<text x="81.00" y="427.90" font-family="Liberation Sans, sans-serif" font-size="6.30" text-anchor="middle" fill="#2a2a2a" textLength="12.26" lengthAdjust="spacingAndGlyphs" stroke="#2a2a2a" stroke-width="0.08">0.55</text>
<text x="33.10" y="377.82" font-family="Liberation Sans, sans-serif" font-size="6.30" text-anchor="end" fill="#2a2a2a" textLength="12.26" lengthAdjust="spacingAndGlyphs" stroke="#2a2a2a" stroke-width="0.08">0.55</text>
<line x1="126.50" y1="421.00" x2="126.50" y2="419.20" stroke="#99a" stroke-width="0.6"/>
<line x1="126.50" y1="239.50" x2="126.50" y2="241.30" stroke="#99a" stroke-width="0.6"/>
<line x1="35.50" y1="330.25" x2="37.30" y2="330.25" stroke="#99a" stroke-width="0.6"/>
<line x1="217.50" y1="330.25" x2="215.70" y2="330.25" stroke="#99a" stroke-width="0.6"/>
<text x="126.50" y="427.90" font-family="Liberation Sans, sans-serif" font-size="6.30" text-anchor="middle" fill="#2a2a2a" textLength="12.26" lengthAdjust="spacingAndGlyphs" stroke="#2a2a2a" stroke-width="0.08">0.60</text>
<text x="33.10" y="332.45" font-family="Liberation Sans, sans-serif" font-size="6.30" text-anchor="end" fill="#2a2a2a" textLength="12.26" lengthAdjust="spacingAndGlyphs" stroke="#2a2a2a" stroke-width="0.08">0.60</text>
<line x1="172.00" y1="421.00" x2="172.00" y2="419.20" stroke="#99a" stroke-width="0.6"/>
<line x1="172.00" y1="239.50" x2="172.00" y2="241.30" stroke="#99a" stroke-width="0.6"/>
<line x1="35.50" y1="284.88" x2="37.30" y2="284.88" stroke="#99a" stroke-width="0.6"/>
<line x1="217.50" y1="284.88" x2="215.70" y2="284.88" stroke="#99a" stroke-width="0.6"/>
<text x="172.00" y="427.90" font-family="Liberation Sans, sans-serif" font-size="6.30" text-anchor="middle" fill="#2a2a2a" textLength="12.26" lengthAdjust="spacingAndGlyphs" stroke="#2a2a2a" stroke-width="0.08">0.65</text>
<text x="33.10" y="287.07" font-family="Liberation Sans, sans-serif" font-size="6.30" text-anchor="end" fill="#2a2a2a" textLength="12.26" lengthAdjust="spacingAndGlyphs" stroke="#2a2a2a" stroke-width="0.08">0.65</text>
<text x="217.50" y="427.90" font-family="Liberation Sans, sans-serif" font-size="6.30" text-anchor="middle" fill="#2a2a2a" textLength="12.26" lengthAdjust="spacingAndGlyphs" stroke="#2a2a2a" stroke-width="0.08">0.70</text>
<text x="33.10" y="241.70" font-family="Liberation Sans, sans-serif" font-size="6.30" text-anchor="end" fill="#2a2a2a" textLength="12.26" lengthAdjust="spacingAndGlyphs" stroke="#2a2a2a" stroke-width="0.08">0.70</text>
<text x="125.40" y="436.60" font-family="Liberation Sans, sans-serif" font-size="6.70" text-anchor="middle" fill="#222" textLength="55.75" lengthAdjust="spacingAndGlyphs" stroke="#222" stroke-width="0.12">C-index (Clinical)</text>
<text x="127.50" y="443.90" font-family="Liberation Sans, sans-serif" font-size="6.70" text-anchor="middle" fill="#222" textLength="109.73" lengthAdjust="spacingAndGlyphs" stroke="#222" stroke-width="0.12">p-value = 1.6e-09, PIF = 71.00 %</text>
<text transform="translate(19.90,330.55) rotate(-90)" font-family="Liberation Sans, sans-serif" font-size="6.90" text-anchor="middle" fill="#222" textLength="112.17" lengthAdjust="spacingAndGlyphs" >C-index (Clinical + EMAT Clusters)</text>
<circle cx="306.0" cy="288.6" r="2.05" fill="#0000a2"/>
<circle cx="263.1" cy="329.8" r="2.05" fill="#0000a2"/>
<circle cx="355.8" cy="250.5" r="2.05" fill="#0000a2"/>
<circle cx="357.9" cy="386.2" r="2.05" fill="#0000a2"/>
<circle cx="365.8" cy="357.0" r="2.05" fill="#0000ae"/>
<circle cx="295.2" cy="293.5" r="2.05" fill="#0000b9"/>
<circle cx="282.0" cy="311.8" r="2.05" fill="#0000b9"/>
<circle cx="310.0" cy="400.2" r="2.05" fill="#0000b9"/>
<circle cx="296.6" cy="309.4" r="2.05" fill="#0000f3"/>
<circle cx="282.7" cy="331.9" r="2.05" fill="#0000f3"/>
<circle cx="381.8" cy="319.9" r="2.05" fill="#0000f3"/>
<circle cx="292.5" cy="397.0" r="2.05" fill="#0000f3"/>
<circle cx="269.6" cy="401.8" r="2.05" fill="#0000f3"/>
<circle cx="334.0" cy="379.4" r="2.05" fill="#0000f3"/>
<circle cx="357.8" cy="356.6" r="2.05" fill="#0000f3"/>
<circle cx="323.5" cy="291.8" r="2.05" fill="#0000ff"/>
<circle cx="308.4" cy="299.9" r="2.05" fill="#0000ff"/>
<circle cx="381.9" cy="280.7" r="2.05" fill="#0000ff"/>
<circle cx="383.8" cy="283.5" r="2.05" fill="#0000ff"/>
<circle cx="390.2" cy="310.2" r="2.05" fill="#0000ff"/>
<circle cx="388.1" cy="316.5" r="2.05" fill="#0000ff"/>
<circle cx="268.3" cy="355.2" r="2.05" fill="#0000ff"/>
<circle cx="269.6" cy="367.6" r="2.05" fill="#0000ff"/>
<circle cx="345.8" cy="358.1" r="2.05" fill="#0000ff"/>
<circle cx="271.2" cy="375.2" r="2.05" fill="#0005ff"/>
<circle cx="299.1" cy="314.3" r="2.05" fill="#0019ff"/>
<circle cx="313.9" cy="297.1" r="2.05" fill="#0019ff"/>
<circle cx="316.5" cy="296.3" r="2.05" fill="#0019ff"/>
<circle cx="355.4" cy="283.0" r="2.05" fill="#0019ff"/>
<circle cx="289.6" cy="389.7" r="2.05" fill="#0019ff"/>
<circle cx="282.8" cy="387.7" r="2.05" fill="#002eff"/>
<circle cx="275.8" cy="384.2" r="2.05" fill="#0038ff"/>
<circle cx="376.9" cy="309.1" r="2.05" fill="#004dff"/>
<circle cx="279.7" cy="348.8" r="2.05" fill="#0080ff"/>
<circle cx="373.0" cy="294.8" r="2.05" fill="#0080ff"/>
<circle cx="376.9" cy="297.9" r="2.05" fill="#0080ff"/>
<circle cx="278.8" cy="363.7" r="2.05" fill="#0080ff"/>
<circle cx="317.8" cy="376.5" r="2.05" fill="#0080ff"/>
<circle cx="318.8" cy="377.8" r="2.05" fill="#0080ff"/>
<circle cx="318.2" cy="380.5" r="2.05" fill="#0080ff"/>
<circle cx="313.1" cy="304.1" r="2.05" fill="#0094ff"/>
<circle cx="345.6" cy="348.2" r="2.05" fill="#0094ff"/>
<circle cx="354.1" cy="337.2" r="2.05" fill="#0094ff"/>
<circle cx="374.6" cy="305.0" r="2.05" fill="#0094ff"/>
<circle cx="359.2" cy="329.6" r="2.05" fill="#009eff"/>
<circle cx="300.8" cy="379.4" r="2.05" fill="#00d1ff"/>
<circle cx="283.0" cy="340.9" r="2.05" fill="#00e5f7"/>
<circle cx="323.2" cy="299.2" r="2.05" fill="#00e5f7"/>
<circle cx="322.6" cy="302.2" r="2.05" fill="#00e5f7"/>
<circle cx="372.3" cy="301.9" r="2.05" fill="#08f0ef"/>
<circle cx="300.8" cy="322.9" r="2.05" fill="#19ffde"/>
<circle cx="284.1" cy="345.7" r="2.05" fill="#29ffce"/>
<circle cx="288.3" cy="343.0" r="2.05" fill="#29ffce"/>
<circle cx="288.0" cy="347.1" r="2.05" fill="#29ffce"/>
<circle cx="298.2" cy="326.8" r="2.05" fill="#3affbd"/>
<circle cx="334.5" cy="296.7" r="2.05" fill="#3affbd"/>
<circle cx="343.9" cy="343.2" r="2.05" fill="#3affbd"/>
<circle cx="360.0" cy="289.6" r="2.05" fill="#3affbd"/>
<circle cx="366.9" cy="291.8" r="2.05" fill="#3affbd"/>
<circle cx="286.3" cy="377.8" r="2.05" fill="#3affbd"/>
<circle cx="322.4" cy="368.6" r="2.05" fill="#3affbd"/>
<circle cx="320.9" cy="370.0" r="2.05" fill="#3affbd"/>
<circle cx="329.6" cy="302.2" r="2.05" fill="#42ffb5"/>
<circle cx="286.7" cy="370.6" r="2.05" fill="#52ffa5"/>
<circle cx="336.3" cy="299.6" r="2.05" fill="#5aff9c"/>
<circle cx="340.6" cy="297.5" r="2.05" fill="#5aff9c"/>
<circle cx="306.8" cy="320.8" r="2.05" fill="#5aff9c"/>
<circle cx="310.6" cy="317.8" r="2.05" fill="#63ff94"/>
<circle cx="336.3" cy="349.1" r="2.05" fill="#63ff94"/>
<circle cx="287.6" cy="364.7" r="2.05" fill="#63ff94"/>
<circle cx="291.6" cy="364.4" r="2.05" fill="#63ff94"/>
<circle cx="292.2" cy="371.5" r="2.05" fill="#63ff94"/>
<circle cx="290.9" cy="373.6" r="2.05" fill="#63ff94"/>
<circle cx="325.1" cy="361.4" r="2.05" fill="#63ff94"/>
<circle cx="323.1" cy="364.7" r="2.05" fill="#63ff94"/>
<circle cx="300.4" cy="334.7" r="2.05" fill="#6bff8c"/>
<circle cx="362.0" cy="294.5" r="2.05" fill="#6bff8c"/>
<circle cx="360.8" cy="296.1" r="2.05" fill="#6bff8c"/>
<circle cx="358.9" cy="298.4" r="2.05" fill="#6bff8c"/>
<circle cx="331.0" cy="354.2" r="2.05" fill="#6bff8c"/>
<circle cx="295.2" cy="347.8" r="2.05" fill="#7bff7b"/>
<circle cx="291.7" cy="349.2" r="2.05" fill="#7bff7b"/>
<circle cx="340.1" cy="299.6" r="2.05" fill="#7bff7b"/>
<circle cx="304.0" cy="372.3" r="2.05" fill="#7bff7b"/>
<circle cx="317.7" cy="314.4" r="2.05" fill="#94ff63"/>
<circle cx="305.9" cy="327.1" r="2.05" fill="#94ff63"/>
<circle cx="298.2" cy="334.7" r="2.05" fill="#a5ff52"/>
<circle cx="350.7" cy="295.8" r="2.05" fill="#a5ff52"/>
<circle cx="350.7" cy="298.4" r="2.05" fill="#a5ff52"/>
<circle cx="341.4" cy="340.6" r="2.05" fill="#a5ff52"/>
<circle cx="314.8" cy="320.3" r="2.05" fill="#b5ff42"/>
<circle cx="313.5" cy="321.9" r="2.05" fill="#b5ff42"/>
<circle cx="299.3" cy="340.2" r="2.05" fill="#deff19"/>
<circle cx="299.3" cy="343.0" r="2.05" fill="#deff19"/>
<circle cx="327.0" cy="309.4" r="2.05" fill="#deff19"/>
<circle cx="326.6" cy="311.1" r="2.05" fill="#deff19"/>
<circle cx="347.7" cy="331.8" r="2.05" fill="#deff19"/>
<circle cx="350.3" cy="330.5" r="2.05" fill="#deff19"/>
<circle cx="300.8" cy="342.3" r="2.05" fill="#deff19"/>
<circle cx="300.4" cy="344.8" r="2.05" fill="#deff19"/>
<circle cx="306.7" cy="368.6" r="2.05" fill="#deff19"/>
<circle cx="308.6" cy="368.4" r="2.05" fill="#deff19"/>
<circle cx="301.4" cy="365.8" r="2.05" fill="#e6ff10"/>
<circle cx="352.8" cy="325.0" r="2.05" fill="#efff08"/>
<circle cx="355.4" cy="322.2" r="2.05" fill="#efff08"/>
<circle cx="299.4" cy="360.5" r="2.05" fill="#efff08"/>
<circle cx="358.0" cy="309.6" r="2.05" fill="#f7f600"/>
<circle cx="356.5" cy="305.0" r="2.05" fill="#ffd900"/>
<circle cx="308.0" cy="363.4" r="2.05" fill="#ffd900"/>
<circle cx="311.9" cy="364.4" r="2.05" fill="#ffd900"/>
<circle cx="353.6" cy="318.7" r="2.05" fill="#ffc600"/>
<circle cx="325.3" cy="315.7" r="2.05" fill="#ffb300"/>
<circle cx="339.3" cy="304.3" r="2.05" fill="#ffaa00"/>
<circle cx="337.6" cy="306.4" r="2.05" fill="#ffaa00"/>
<circle cx="336.8" cy="308.1" r="2.05" fill="#ffaa00"/>
<circle cx="331.3" cy="310.2" r="2.05" fill="#ffa100"/>
<circle cx="330.0" cy="312.7" r="2.05" fill="#ffa100"/>
<circle cx="301.4" cy="356.6" r="2.05" fill="#ffa100"/>
<circle cx="348.6" cy="305.1" r="2.05" fill="#ff9700"/>
<circle cx="310.1" cy="334.7" r="2.05" fill="#ff9700"/>
<circle cx="306.8" cy="336.8" r="2.05" fill="#ff9700"/>
<circle cx="305.9" cy="345.7" r="2.05" fill="#ff9700"/>
<circle cx="307.3" cy="358.1" r="2.05" fill="#ff8e00"/>
<circle cx="306.7" cy="361.4" r="2.05" fill="#ff8e00"/>
<circle cx="321.5" cy="325.0" r="2.05" fill="#ff8400"/>
<circle cx="319.4" cy="326.7" r="2.05" fill="#ff8400"/>
<circle cx="322.0" cy="328.0" r="2.05" fill="#ff8400"/>
<circle cx="323.2" cy="326.7" r="2.05" fill="#ff8400"/>
<circle cx="316.9" cy="329.2" r="2.05" fill="#ff8400"/>
<circle cx="320.3" cy="328.8" r="2.05" fill="#ff8400"/>
<circle cx="342.2" cy="308.1" r="2.05" fill="#ff7b00"/>
<circle cx="343.9" cy="307.7" r="2.05" fill="#ff7b00"/>
<circle cx="306.8" cy="349.1" r="2.05" fill="#ff7b00"/>
<circle cx="314.6" cy="358.1" r="2.05" fill="#ff7b00"/>
<circle cx="317.8" cy="358.1" r="2.05" fill="#ff7b00"/>
<circle cx="351.5" cy="309.4" r="2.05" fill="#ff6800"/>
<circle cx="353.6" cy="310.2" r="2.05" fill="#ff6800"/>
<circle cx="342.2" cy="333.9" r="2.05" fill="#ff5500"/>
<circle cx="318.2" cy="333.7" r="2.05" fill="#ff2b00"/>
<circle cx="313.9" cy="339.4" r="2.05" fill="#ff2b00"/>
<circle cx="333.0" cy="315.3" r="2.05" fill="#ff2100"/>
<circle cx="350.5" cy="313.6" r="2.05" fill="#ff2100"/>
<circle cx="337.2" cy="337.2" r="2.05" fill="#ff2100"/>
<circle cx="336.8" cy="338.9" r="2.05" fill="#ff2100"/>
<circle cx="334.2" cy="340.2" r="2.05" fill="#ff2100"/>
<circle cx="346.3" cy="328.0" r="2.05" fill="#ff2100"/>
<circle cx="309.3" cy="354.9" r="2.05" fill="#ff2100"/>
<circle cx="310.4" cy="356.6" r="2.05" fill="#ff2100"/>
<circle cx="337.2" cy="313.2" r="2.05" fill="#ff1800"/>
<circle cx="339.7" cy="313.2" r="2.05" fill="#ff1800"/>
<circle cx="321.5" cy="337.7" r="2.05" fill="#ff1800"/>
<circle cx="311.8" cy="348.6" r="2.05" fill="#ff1800"/>
<circle cx="316.1" cy="349.1" r="2.05" fill="#ff1800"/>
<circle cx="318.6" cy="349.1" r="2.05" fill="#ff1800"/>
<circle cx="310.6" cy="350.9" r="2.05" fill="#ff1800"/>
<circle cx="348.2" cy="322.0" r="2.05" fill="#f90e00"/>
<circle cx="332.1" cy="323.7" r="2.05" fill="#f90e00"/>
<circle cx="339.3" cy="332.6" r="2.05" fill="#f90e00"/>
<circle cx="319.8" cy="352.9" r="2.05" fill="#f90e00"/>
<circle cx="322.4" cy="352.6" r="2.05" fill="#f90e00"/>
<circle cx="344.8" cy="319.1" r="2.05" fill="#a20000"/>
<circle cx="346.5" cy="317.4" r="2.05" fill="#a20000"/>
<circle cx="348.2" cy="320.3" r="2.05" fill="#a20000"/>
<circle cx="325.3" cy="341.0" r="2.05" fill="#a20000"/>
<circle cx="323.7" cy="342.7" r="2.05" fill="#a20000"/>
<circle cx="321.5" cy="344.4" r="2.05" fill="#a20000"/>
<circle cx="319.4" cy="343.2" r="2.05" fill="#a20000"/>
<circle cx="320.3" cy="346.5" r="2.05" fill="#a20000"/>
<circle cx="336.3" cy="318.2" r="2.05" fill="#970000"/>
<circle cx="338.4" cy="319.1" r="2.05" fill="#970000"/>
<circle cx="335.5" cy="321.2" r="2.05" fill="#970000"/>
<circle cx="333.4" cy="331.3" r="2.05" fill="#8b0000"/>
<circle cx="332.1" cy="334.3" r="2.05" fill="#8b0000"/>
<circle cx="334.6" cy="333.0" r="2.05" fill="#8b0000"/>
<circle cx="335.5" cy="335.6" r="2.05" fill="#8b0000"/>
<line x1="261.7" y1="421.3" x2="443.5" y2="239.5" stroke="#000" stroke-width="1.05"/>
<rect x="261.7" y="239.5" width="181.8" height="181.8" fill="none" stroke="#707070" stroke-width="1"/>
<line x1="261.7" y1="421.3" x2="443.5" y2="421.3" stroke="#7c7c92" stroke-width="1.0"/>
<text x="261.70" y="428.20" font-family="Liberation Sans, sans-serif" font-size="6.30" text-anchor="middle" fill="#2a2a2a" textLength="12.26" lengthAdjust="spacingAndGlyphs" stroke="#2a2a2a" stroke-width="0.08">0.50</text>
<text x="259.30" y="423.50" font-family="Liberation Sans, sans-serif" font-size="6.30" text-anchor="end" fill="#2a2a2a" textLength="12.26" lengthAdjust="spacingAndGlyphs" stroke="#2a2a2a" stroke-width="0.08">0.50</text>
<line x1="307.15" y1="421.30" x2="307.15" y2="419.50" stroke="#99a" stroke-width="0.6"/>
<line x1="307.15" y1="239.50" x2="307.15" y2="241.30" stroke="#99a" stroke-width="0.6"/>
<line x1="261.70" y1="375.85" x2="263.50" y2="375.85" stroke="#99a" stroke-width="0.6"/>
<line x1="443.50" y1="375.85" x2="441.70" y2="375.85" stroke="#99a" stroke-width="0.6"/>
<text x="307.15" y="428.20" font-family="Liberation Sans, sans-serif" font-size="6.30" text-anchor="middle" fill="#2a2a2a" textLength="12.26" lengthAdjust="spacingAndGlyphs" stroke="#2a2a2a" stroke-width="0.08">0.55</text>
<text x="259.30" y="378.05" font-family="Liberation Sans, sans-serif" font-size="6.30" text-anchor="end" fill="#2a2a2a" textLength="12.26" lengthAdjust="spacingAndGlyphs" stroke="#2a2a2a" stroke-width="0.08">0.55</text>
<line x1="352.60" y1="421.30" x2="352.60" y2="419.50" stroke="#99a" stroke-width="0.6"/>
<line x1="352.60" y1="239.50" x2="352.60" y2="241.30" stroke="#99a" stroke-width="0.6"/>
<line x1="261.70" y1="330.40" x2="263.50" y2="330.40" stroke="#99a" stroke-width="0.6"/>
<line x1="443.50" y1="330.40" x2="441.70" y2="330.40" stroke="#99a" stroke-width="0.6"/>
<text x="352.60" y="428.20" font-family="Liberation Sans, sans-serif" font-size="6.30" text-anchor="middle" fill="#2a2a2a" textLength="12.26" lengthAdjust="spacingAndGlyphs" stroke="#2a2a2a" stroke-width="0.08">0.60</text>
<text x="259.30" y="332.60" font-family="Liberation Sans, sans-serif" font-size="6.30" text-anchor="end" fill="#2a2a2a" textLength="12.26" lengthAdjust="spacingAndGlyphs" stroke="#2a2a2a" stroke-width="0.08">0.60</text>
<line x1="398.05" y1="421.30" x2="398.05" y2="419.50" stroke="#99a" stroke-width="0.6"/>
<line x1="398.05" y1="239.50" x2="398.05" y2="241.30" stroke="#99a" stroke-width="0.6"/>
<line x1="261.70" y1="284.95" x2="263.50" y2="284.95" stroke="#99a" stroke-width="0.6"/>
<line x1="443.50" y1="284.95" x2="441.70" y2="284.95" stroke="#99a" stroke-width="0.6"/>
<text x="398.05" y="428.20" font-family="Liberation Sans, sans-serif" font-size="6.30" text-anchor="middle" fill="#2a2a2a" textLength="12.26" lengthAdjust="spacingAndGlyphs" stroke="#2a2a2a" stroke-width="0.08">0.65</text>
<text x="259.30" y="287.15" font-family="Liberation Sans, sans-serif" font-size="6.30" text-anchor="end" fill="#2a2a2a" textLength="12.26" lengthAdjust="spacingAndGlyphs" stroke="#2a2a2a" stroke-width="0.08">0.65</text>
<text x="443.50" y="428.20" font-family="Liberation Sans, sans-serif" font-size="6.30" text-anchor="middle" fill="#2a2a2a" textLength="12.26" lengthAdjust="spacingAndGlyphs" stroke="#2a2a2a" stroke-width="0.08">0.70</text>
<text x="259.30" y="241.70" font-family="Liberation Sans, sans-serif" font-size="6.30" text-anchor="end" fill="#2a2a2a" textLength="12.26" lengthAdjust="spacingAndGlyphs" stroke="#2a2a2a" stroke-width="0.08">0.70</text>
<text x="351.50" y="436.90" font-family="Liberation Sans, sans-serif" font-size="6.70" text-anchor="middle" fill="#222" textLength="120.10" lengthAdjust="spacingAndGlyphs" stroke="#222" stroke-width="0.12">C-index (Clinical + PAM50 Subtypes)</text>
<text x="353.60" y="444.20" font-family="Liberation Sans, sans-serif" font-size="6.70" text-anchor="middle" fill="#222" textLength="109.73" lengthAdjust="spacingAndGlyphs" stroke="#222" stroke-width="0.12">p-value = 1.7e-24, PIF = 86.00 %</text>
<text transform="translate(246.10,330.70) rotate(-90)" font-family="Liberation Sans, sans-serif" font-size="6.90" text-anchor="middle" fill="#222" textLength="112.17" lengthAdjust="spacingAndGlyphs" >C-index (Clinical + EMAT Clusters)</text>
<circle cx="501.3" cy="349.9" r="2.05" fill="#0000a2"/>
<circle cx="599.8" cy="251.8" r="2.05" fill="#0000a2"/>
<circle cx="615.5" cy="358.9" r="2.05" fill="#0000ae"/>
<circle cx="522.3" cy="401.8" r="2.05" fill="#0000b9"/>
<circle cx="583.0" cy="382.0" r="2.05" fill="#0000d1"/>
<circle cx="523.0" cy="311.2" r="2.05" fill="#0000dc"/>
<circle cx="547.8" cy="290.1" r="2.05" fill="#0000f3"/>
<circle cx="523.4" cy="341.2" r="2.05" fill="#0000f3"/>
<circle cx="626.7" cy="299.8" r="2.05" fill="#0000f3"/>
<circle cx="546.6" cy="391.5" r="2.05" fill="#0000f3"/>
<circle cx="542.2" cy="398.7" r="2.05" fill="#0000f3"/>
<circle cx="605.6" cy="339.0" r="2.05" fill="#0000ff"/>
<circle cx="620.7" cy="321.6" r="2.05" fill="#0000ff"/>
<circle cx="498.0" cy="365.2" r="2.05" fill="#0000ff"/>
<circle cx="514.7" cy="386.6" r="2.05" fill="#0000ff"/>
<circle cx="498.6" cy="389.7" r="2.05" fill="#0000ff"/>
<circle cx="536.5" cy="388.0" r="2.05" fill="#0000ff"/>
<circle cx="598.9" cy="350.7" r="2.05" fill="#0000ff"/>
<circle cx="546.9" cy="297.6" r="2.05" fill="#0005ff"/>
<circle cx="501.0" cy="372.6" r="2.05" fill="#0005ff"/>
<circle cx="534.7" cy="309.5" r="2.05" fill="#0019ff"/>
<circle cx="602.2" cy="338.6" r="2.05" fill="#0019ff"/>
<circle cx="590.6" cy="285.0" r="2.05" fill="#0019ff"/>
<circle cx="602.2" cy="282.8" r="2.05" fill="#0019ff"/>
<circle cx="623.2" cy="291.4" r="2.05" fill="#0019ff"/>
<circle cx="504.1" cy="366.0" r="2.05" fill="#0019ff"/>
<circle cx="508.5" cy="379.4" r="2.05" fill="#0019ff"/>
<circle cx="519.4" cy="381.0" r="2.05" fill="#0019ff"/>
<circle cx="582.1" cy="373.1" r="2.05" fill="#0019ff"/>
<circle cx="530.6" cy="328.7" r="2.05" fill="#002eff"/>
<circle cx="602.2" cy="285.5" r="2.05" fill="#002eff"/>
<circle cx="620.1" cy="298.2" r="2.05" fill="#0038ff"/>
<circle cx="618.5" cy="306.9" r="2.05" fill="#004dff"/>
<circle cx="557.8" cy="297.6" r="2.05" fill="#0061ff"/>
<circle cx="543.7" cy="303.6" r="2.05" fill="#0061ff"/>
<circle cx="546.5" cy="304.0" r="2.05" fill="#0061ff"/>
<circle cx="535.8" cy="314.3" r="2.05" fill="#0061ff"/>
<circle cx="611.1" cy="321.1" r="2.05" fill="#0061ff"/>
<circle cx="510.7" cy="366.0" r="2.05" fill="#0061ff"/>
<circle cx="535.0" cy="375.5" r="2.05" fill="#0061ff"/>
<circle cx="574.4" cy="293.5" r="2.05" fill="#0080ff"/>
<circle cx="565.1" cy="298.9" r="2.05" fill="#0080ff"/>
<circle cx="562.4" cy="301.4" r="2.05" fill="#0080ff"/>
<circle cx="571.5" cy="378.4" r="2.05" fill="#0080ff"/>
<circle cx="611.1" cy="293.5" r="2.05" fill="#0094ff"/>
<circle cx="603.9" cy="330.1" r="2.05" fill="#00b2ff"/>
<circle cx="597.2" cy="342.8" r="2.05" fill="#00b2ff"/>
<circle cx="551.6" cy="306.0" r="2.05" fill="#00d1ff"/>
<circle cx="551.8" cy="370.0" r="2.05" fill="#00d1ff"/>
<circle cx="540.0" cy="320.3" r="2.05" fill="#00e5f7"/>
<circle cx="565.6" cy="376.8" r="2.05" fill="#08f0ef"/>
<circle cx="565.0" cy="379.4" r="2.05" fill="#08f0ef"/>
<circle cx="543.7" cy="313.6" r="2.05" fill="#10fae6"/>
<circle cx="545.1" cy="316.0" r="2.05" fill="#10fae6"/>
<circle cx="543.0" cy="316.0" r="2.05" fill="#10fae6"/>
<circle cx="582.8" cy="293.5" r="2.05" fill="#10fae6"/>
<circle cx="542.0" cy="324.7" r="2.05" fill="#19ffde"/>
<circle cx="573.7" cy="299.1" r="2.05" fill="#19ffde"/>
<circle cx="523.6" cy="358.1" r="2.05" fill="#19ffde"/>
<circle cx="536.8" cy="333.3" r="2.05" fill="#29ffce"/>
<circle cx="584.9" cy="296.3" r="2.05" fill="#3affbd"/>
<circle cx="596.3" cy="335.6" r="2.05" fill="#3affbd"/>
<circle cx="599.7" cy="333.9" r="2.05" fill="#3affbd"/>
<circle cx="528.2" cy="352.5" r="2.05" fill="#3affbd"/>
<circle cx="525.6" cy="363.6" r="2.05" fill="#3affbd"/>
<circle cx="524.2" cy="366.3" r="2.05" fill="#3affbd"/>
<circle cx="557.1" cy="365.6" r="2.05" fill="#3affbd"/>
<circle cx="561.0" cy="373.9" r="2.05" fill="#3affbd"/>
<circle cx="608.2" cy="300.1" r="2.05" fill="#42ffb5"/>
<circle cx="608.2" cy="303.9" r="2.05" fill="#42ffb5"/>
<circle cx="609.0" cy="306.9" r="2.05" fill="#42ffb5"/>
<circle cx="532.5" cy="366.3" r="2.05" fill="#42ffb5"/>
<circle cx="542.2" cy="365.6" r="2.05" fill="#42ffb5"/>
<circle cx="564.3" cy="369.2" r="2.05" fill="#42ffb5"/>
<circle cx="567.6" cy="369.6" r="2.05" fill="#42ffb5"/>
<circle cx="569.6" cy="368.2" r="2.05" fill="#42ffb5"/>
<circle cx="569.6" cy="365.6" r="2.05" fill="#42ffb5"/>
<circle cx="567.6" cy="371.5" r="2.05" fill="#42ffb5"/>
<circle cx="570.2" cy="371.5" r="2.05" fill="#42ffb5"/>
<circle cx="584.7" cy="349.9" r="2.05" fill="#42ffb5"/>
<circle cx="554.3" cy="315.0" r="2.05" fill="#52ffa5"/>
<circle cx="537.5" cy="337.4" r="2.05" fill="#52ffa5"/>
<circle cx="536.8" cy="341.8" r="2.05" fill="#52ffa5"/>
<circle cx="590.0" cy="295.2" r="2.05" fill="#52ffa5"/>
<circle cx="578.4" cy="301.2" r="2.05" fill="#52ffa5"/>
<circle cx="576.1" cy="358.4" r="2.05" fill="#5aff9c"/>
<circle cx="579.4" cy="359.7" r="2.05" fill="#5aff9c"/>
<circle cx="533.6" cy="346.8" r="2.05" fill="#63ff94"/>
<circle cx="603.5" cy="296.8" r="2.05" fill="#63ff94"/>
<circle cx="540.4" cy="363.0" r="2.05" fill="#63ff94"/>
<circle cx="562.4" cy="359.7" r="2.05" fill="#63ff94"/>
<circle cx="573.9" cy="364.3" r="2.05" fill="#63ff94"/>
<circle cx="584.9" cy="344.1" r="2.05" fill="#6bff8c"/>
<circle cx="585.2" cy="347.8" r="2.05" fill="#7bff7b"/>
<circle cx="535.7" cy="350.8" r="2.05" fill="#7bff7b"/>
<circle cx="534.8" cy="362.1" r="2.05" fill="#7bff7b"/>
<circle cx="601.8" cy="305.6" r="2.05" fill="#94ff63"/>
<circle cx="601.8" cy="309.9" r="2.05" fill="#94ff63"/>
<circle cx="603.1" cy="312.0" r="2.05" fill="#94ff63"/>
<circle cx="533.4" cy="356.4" r="2.05" fill="#a5ff52"/>
<circle cx="535.4" cy="358.4" r="2.05" fill="#a5ff52"/>
<circle cx="544.0" cy="360.0" r="2.05" fill="#a5ff52"/>
<circle cx="588.6" cy="301.8" r="2.05" fill="#adff4a"/>
<circle cx="594.6" cy="298.4" r="2.05" fill="#adff4a"/>
<circle cx="594.2" cy="301.4" r="2.05" fill="#adff4a"/>
<circle cx="570.1" cy="309.4" r="2.05" fill="#b5ff42"/>
<circle cx="570.0" cy="312.0" r="2.05" fill="#b5ff42"/>
<circle cx="538.3" cy="356.4" r="2.05" fill="#bdff3a"/>
<circle cx="596.3" cy="318.7" r="2.05" fill="#ceff29"/>
<circle cx="595.5" cy="321.7" r="2.05" fill="#ceff29"/>
<circle cx="598.9" cy="320.0" r="2.05" fill="#ceff29"/>
<circle cx="557.5" cy="322.9" r="2.05" fill="#deff19"/>
<circle cx="555.4" cy="323.9" r="2.05" fill="#deff19"/>
<circle cx="566.9" cy="354.5" r="2.05" fill="#deff19"/>
<circle cx="570.9" cy="351.2" r="2.05" fill="#deff19"/>
<circle cx="575.1" cy="352.5" r="2.05" fill="#deff19"/>
<circle cx="579.0" cy="347.1" r="2.05" fill="#e6ff10"/>
<circle cx="562.5" cy="317.5" r="2.05" fill="#e6ff10"/>
<circle cx="561.3" cy="319.6" r="2.05" fill="#e6ff10"/>
<circle cx="584.5" cy="337.7" r="2.05" fill="#e6ff10"/>
<circle cx="577.7" cy="343.6" r="2.05" fill="#e6ff10"/>
<circle cx="543.3" cy="354.7" r="2.05" fill="#efff08"/>
<circle cx="547.4" cy="336.7" r="2.05" fill="#f7f600"/>
<circle cx="551.6" cy="331.6" r="2.05" fill="#ffd900"/>
<circle cx="590.8" cy="324.2" r="2.05" fill="#ffd900"/>
<circle cx="590.0" cy="326.8" r="2.05" fill="#ffd900"/>
<circle cx="547.8" cy="340.2" r="2.05" fill="#ffa100"/>
<circle cx="546.5" cy="342.7" r="2.05" fill="#ffa100"/>
<circle cx="577.7" cy="310.3" r="2.05" fill="#ffa100"/>
<circle cx="563.8" cy="321.7" r="2.05" fill="#ffa100"/>
<circle cx="547.0" cy="352.1" r="2.05" fill="#ffa100"/>
<circle cx="574.8" cy="344.1" r="2.05" fill="#ff9700"/>
<circle cx="586.2" cy="307.3" r="2.05" fill="#ff8e00"/>
<circle cx="593.4" cy="311.1" r="2.05" fill="#ff8e00"/>
<circle cx="571.8" cy="342.4" r="2.05" fill="#ff8e00"/>
<circle cx="556.4" cy="349.9" r="2.05" fill="#ff8400"/>
<circle cx="566.5" cy="348.5" r="2.05" fill="#ff7b00"/>
<circle cx="561.3" cy="325.5" r="2.05" fill="#ff7b00"/>
<circle cx="553.0" cy="337.4" r="2.05" fill="#ff2100"/>
<circle cx="552.0" cy="339.5" r="2.05" fill="#ff2100"/>
<circle cx="585.3" cy="326.3" r="2.05" fill="#ff2100"/>
<circle cx="579.9" cy="334.8" r="2.05" fill="#ff2100"/>
<circle cx="557.9" cy="333.0" r="2.05" fill="#ff1800"/>
<circle cx="550.6" cy="344.3" r="2.05" fill="#ff1800"/>
<circle cx="552.0" cy="345.7" r="2.05" fill="#ff1800"/>
<circle cx="549.2" cy="347.1" r="2.05" fill="#ff1800"/>
<circle cx="558.2" cy="343.0" r="2.05" fill="#ff1800"/>
<circle cx="561.0" cy="346.4" r="2.05" fill="#ff1800"/>
<circle cx="563.7" cy="347.1" r="2.05" fill="#ff1800"/>
<circle cx="576.5" cy="317.0" r="2.05" fill="#ff1800"/>
<circle cx="569.3" cy="321.4" r="2.05" fill="#ff1800"/>
<circle cx="582.8" cy="311.1" r="2.05" fill="#f90e00"/>
<circle cx="585.3" cy="312.0" r="2.05" fill="#f90e00"/>
<circle cx="587.9" cy="311.5" r="2.05" fill="#f90e00"/>
<circle cx="584.1" cy="314.5" r="2.05" fill="#f90e00"/>
<circle cx="586.6" cy="314.9" r="2.05" fill="#f90e00"/>
<circle cx="579.4" cy="328.0" r="2.05" fill="#b90000"/>
<circle cx="580.3" cy="329.7" r="2.05" fill="#b90000"/>
<circle cx="579.0" cy="331.4" r="2.05" fill="#b90000"/>
<circle cx="581.5" cy="318.7" r="2.05" fill="#a20000"/>
<circle cx="584.1" cy="319.1" r="2.05" fill="#a20000"/>
<circle cx="578.6" cy="322.1" r="2.05" fill="#a20000"/>
<circle cx="580.7" cy="322.5" r="2.05" fill="#a20000"/>
<circle cx="582.4" cy="323.4" r="2.05" fill="#a20000"/>
<circle cx="568.4" cy="328.4" r="2.05" fill="#970000"/>
<circle cx="573.1" cy="328.4" r="2.05" fill="#970000"/>
<circle cx="573.5" cy="331.4" r="2.05" fill="#970000"/>
<circle cx="565.5" cy="331.4" r="2.05" fill="#8b0000"/>
<circle cx="566.8" cy="333.5" r="2.05" fill="#8b0000"/>
<circle cx="563.8" cy="334.4" r="2.05" fill="#8b0000"/>
<circle cx="568.4" cy="336.9" r="2.05" fill="#8b0000"/>
<circle cx="562.5" cy="336.5" r="2.05" fill="#8b0000"/>
<circle cx="563.0" cy="339.0" r="2.05" fill="#8b0000"/>
<line x1="496.6" y1="422.29999999999995" x2="677.5" y2="241.6" stroke="#000" stroke-width="1.05"/>
<rect x="496.6" y="241.6" width="180.9" height="180.7" fill="none" stroke="#707070" stroke-width="1"/>
<line x1="496.6" y1="422.29999999999995" x2="677.5" y2="422.29999999999995" stroke="#7c7c92" stroke-width="1.0"/>
<text x="496.60" y="429.20" font-family="Liberation Sans, sans-serif" font-size="6.30" text-anchor="middle" fill="#2a2a2a" textLength="12.26" lengthAdjust="spacingAndGlyphs" stroke="#2a2a2a" stroke-width="0.08">0.50</text>
<text x="494.20" y="424.50" font-family="Liberation Sans, sans-serif" font-size="6.30" text-anchor="end" fill="#2a2a2a" textLength="12.26" lengthAdjust="spacingAndGlyphs" stroke="#2a2a2a" stroke-width="0.08">0.50</text>
<line x1="541.83" y1="422.30" x2="541.83" y2="420.50" stroke="#99a" stroke-width="0.6"/>
<line x1="541.83" y1="241.60" x2="541.83" y2="243.40" stroke="#99a" stroke-width="0.6"/>
<line x1="496.60" y1="377.12" x2="498.40" y2="377.12" stroke="#99a" stroke-width="0.6"/>
<line x1="677.50" y1="377.12" x2="675.70" y2="377.12" stroke="#99a" stroke-width="0.6"/>
<text x="541.83" y="429.20" font-family="Liberation Sans, sans-serif" font-size="6.30" text-anchor="middle" fill="#2a2a2a" textLength="12.26" lengthAdjust="spacingAndGlyphs" stroke="#2a2a2a" stroke-width="0.08">0.55</text>
<text x="494.20" y="379.32" font-family="Liberation Sans, sans-serif" font-size="6.30" text-anchor="end" fill="#2a2a2a" textLength="12.26" lengthAdjust="spacingAndGlyphs" stroke="#2a2a2a" stroke-width="0.08">0.55</text>
<line x1="587.05" y1="422.30" x2="587.05" y2="420.50" stroke="#99a" stroke-width="0.6"/>
<line x1="587.05" y1="241.60" x2="587.05" y2="243.40" stroke="#99a" stroke-width="0.6"/>
<line x1="496.60" y1="331.95" x2="498.40" y2="331.95" stroke="#99a" stroke-width="0.6"/>
<line x1="677.50" y1="331.95" x2="675.70" y2="331.95" stroke="#99a" stroke-width="0.6"/>
<text x="587.05" y="429.20" font-family="Liberation Sans, sans-serif" font-size="6.30" text-anchor="middle" fill="#2a2a2a" textLength="12.26" lengthAdjust="spacingAndGlyphs" stroke="#2a2a2a" stroke-width="0.08">0.60</text>
<text x="494.20" y="334.15" font-family="Liberation Sans, sans-serif" font-size="6.30" text-anchor="end" fill="#2a2a2a" textLength="12.26" lengthAdjust="spacingAndGlyphs" stroke="#2a2a2a" stroke-width="0.08">0.60</text>
<line x1="632.28" y1="422.30" x2="632.28" y2="420.50" stroke="#99a" stroke-width="0.6"/>
<line x1="632.28" y1="241.60" x2="632.28" y2="243.40" stroke="#99a" stroke-width="0.6"/>
<line x1="496.60" y1="286.77" x2="498.40" y2="286.77" stroke="#99a" stroke-width="0.6"/>
<line x1="677.50" y1="286.77" x2="675.70" y2="286.77" stroke="#99a" stroke-width="0.6"/>
<text x="632.28" y="429.20" font-family="Liberation Sans, sans-serif" font-size="6.30" text-anchor="middle" fill="#2a2a2a" textLength="12.26" lengthAdjust="spacingAndGlyphs" stroke="#2a2a2a" stroke-width="0.08">0.65</text>
<text x="494.20" y="288.97" font-family="Liberation Sans, sans-serif" font-size="6.30" text-anchor="end" fill="#2a2a2a" textLength="12.26" lengthAdjust="spacingAndGlyphs" stroke="#2a2a2a" stroke-width="0.08">0.65</text>
<text x="677.50" y="429.20" font-family="Liberation Sans, sans-serif" font-size="6.30" text-anchor="middle" fill="#2a2a2a" textLength="12.26" lengthAdjust="spacingAndGlyphs" stroke="#2a2a2a" stroke-width="0.08">0.70</text>
<text x="494.20" y="243.80" font-family="Liberation Sans, sans-serif" font-size="6.30" text-anchor="end" fill="#2a2a2a" textLength="12.26" lengthAdjust="spacingAndGlyphs" stroke="#2a2a2a" stroke-width="0.08">0.70</text>
<text x="585.95" y="437.90" font-family="Liberation Sans, sans-serif" font-size="6.70" text-anchor="middle" fill="#222" textLength="117.80" lengthAdjust="spacingAndGlyphs" stroke="#222" stroke-width="0.12">C-index (Clinical + Receptor Status)</text>
<text x="588.05" y="445.20" font-family="Liberation Sans, sans-serif" font-size="6.70" text-anchor="middle" fill="#222" textLength="109.73" lengthAdjust="spacingAndGlyphs" stroke="#222" stroke-width="0.12">p-value = 9.1e-17, PIF = 76.00 %</text>
<text transform="translate(481.00,332.25) rotate(-90)" font-family="Liberation Sans, sans-serif" font-size="6.90" text-anchor="middle" fill="#222" textLength="112.17" lengthAdjust="spacingAndGlyphs" >C-index (Clinical + EMAT Clusters)</text>
</svg>
</body></html>
